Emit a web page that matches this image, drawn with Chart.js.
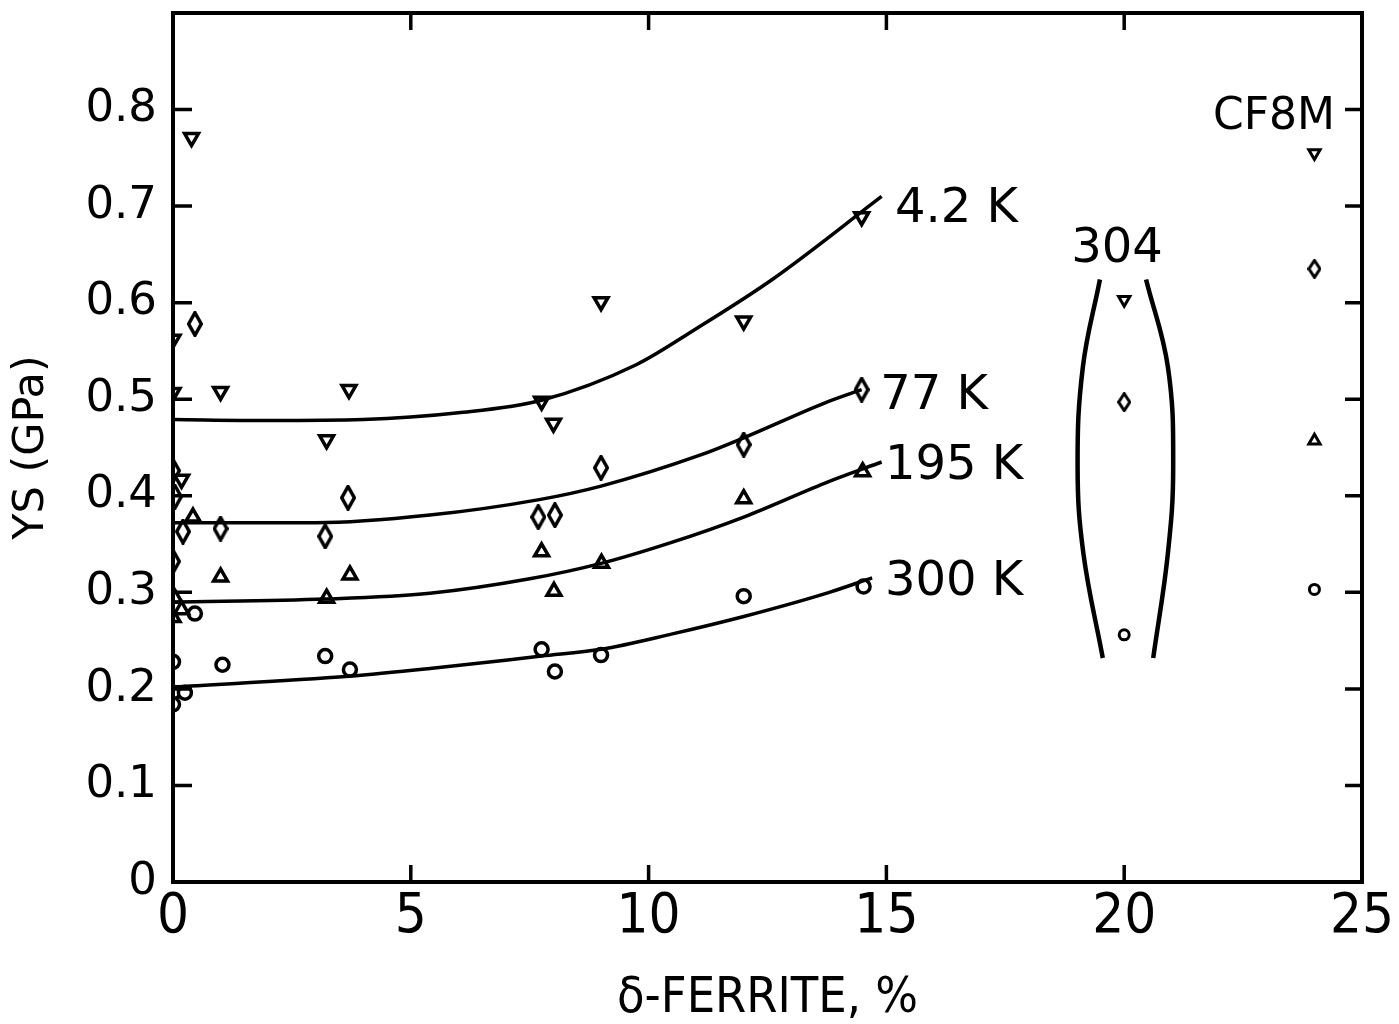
<!DOCTYPE html>
<html>
<head>
<meta charset="utf-8">
<script src="https://cdn.jsdelivr.net/npm/chart.js@4.4.0/dist/chart.umd.min.js"></script>
<style>
  html, body { margin: 0; padding: 0; background: #fff; }
</style>
</head>
<body>
<canvas id="ysChart" width="1399" height="1024"></canvas>
<script>
// delta-ferrite (%) and yield strength (GPa)
const ferrite42 = [0.39, 0, 0, 1.0, 3.7, 3.23, 0.18, 7.75, 8.0, 9.0, 12.0, 14.48];
const ys42      = [0.771, 0.562, 0.507, 0.508, 0.51, 0.458, 0.417, 0.498, 0.475, 0.601, 0.581, 0.689];

const ferrite77 = [0.46, 0, 0.04, 0.21, 1.0, 3.2, 3.68, 0, 7.68, 8.03, 9.0, 12.0, 14.48];
const ys77      = [0.578, 0.426, 0.399, 0.363, 0.366, 0.358, 0.398, 0.332, 0.378, 0.38, 0.429, 0.453, 0.51];

const ferrite195 = [0.42, 1.0, 3.72, 0.04, 3.23, 0.18, 0, 7.75, 8.01, 9.01, 12.0, 14.5];
const ys195      = [0.378, 0.316, 0.318, 0.294, 0.294, 0.282, 0.274, 0.342, 0.301, 0.33, 0.397, 0.425];

const ferrite300 = [0.46, 0, 1.04, 3.2, 3.72, 0, 0.25, 0, 7.75, 8.03, 9.0, 12.0, 14.52];
const ys300      = [0.278, 0.228, 0.225, 0.234, 0.22, 0.196, 0.196, 0.184, 0.241, 0.218, 0.235, 0.296, 0.306];

// type 304 (20 % ferrite) and CF8M (24 %)
const temps304 = ['4.2', '77', '300'];
const ys304    = [0.603, 0.497, 0.256];
const tempsCF8M = ['4.2', '77', '195', '300'];
const ysCF8M    = [0.755, 0.635, 0.457, 0.303];

// fitted trend lines
const fitX42  = [0, 2, 4, 6, 7.75, 9.75, 11, 12.6, 14.9];
const fitY42  = [0.479, 0.478, 0.479, 0.486, 0.499, 0.536, 0.573, 0.624, 0.71];
const fitX77  = [0, 3, 5.4, 7.7, 9, 11.08, 12, 13.8, 14.48];
const fitY77  = [0.372, 0.372, 0.38, 0.396, 0.41, 0.442, 0.46, 0.498, 0.51];
const fitX195 = [0, 3.2, 5.4, 7.5, 9, 10.5, 12, 13.8, 14.9];
const fitY195 = [0.29, 0.293, 0.299, 0.314, 0.33, 0.352, 0.378, 0.415, 0.435];
const fitX300 = [0, 3.7, 5.4, 7.75, 9, 10.5, 12, 13.8, 14.7];
const fitY300 = [0.202, 0.213, 0.221, 0.234, 0.241, 0.257, 0.275, 0.30, 0.315];

// the bracket drawn round the 304 points
const bracketLeftX  = [19.49, 19.13, 19.02, 19.14, 19.55];
const bracketRightX = [20.46, 20.92, 21.03, 20.92, 20.61];
const bracketY      = [0.624, 0.533, 0.43, 0.341, 0.232];

const xTickValues = [0, 5, 10, 15, 20, 25];
const yTickValues = [0, 0.1, 0.2, 0.3, 0.4, 0.5, 0.6, 0.7, 0.8];

const textLabels = [
    { text: '4.2 K', x: 15.18, y: 0.696, align: 'left' },
    { text: '77 K',  x: 14.87, y: 0.503, align: 'left' },
    { text: '195 K', x: 14.97, y: 0.430, align: 'left' },
    { text: '300 K', x: 14.97, y: 0.310, align: 'left' },
    { text: '304',   x: 19.85, y: 0.655, align: 'center' },
    { text: 'CF8M',  x: 24.43, y: 0.792, align: 'right', size: 44 }
];

function zip(xs, ys) {
    return xs.map((x, i) => ({ x: x, y: ys[i] }));
}

function makeDiamond(w, h, lw) {
    const c = document.createElement('canvas');
    c.width = w; c.height = h;
    const g = c.getContext('2d');
    g.lineWidth = lw;
    g.strokeStyle = '#000';
    g.fillStyle = '#fff';
    g.beginPath();
    g.moveTo(w / 2, lw / 2);
    g.lineTo(w - lw / 2, h / 2);
    g.lineTo(w / 2, h - lw / 2);
    g.lineTo(lw / 2, h / 2);
    g.closePath();
    g.fill();
    g.stroke();
    return c;
}
const bigDiamond = makeDiamond(16, 26, 3.5);
const smallDiamond = makeDiamond(14, 20, 3);

const pts42 = zip(ferrite42, ys42).concat([{ x: 20, y: ys304[0] }, { x: 24, y: ysCF8M[0] }]);
const pts77 = zip(ferrite77, ys77).concat([{ x: 20, y: ys304[1] }, { x: 24, y: ysCF8M[1] }]);
const pts195 = zip(ferrite195, ys195).concat([{ x: 24, y: ysCF8M[2] }]);
const pts300 = zip(ferrite300, ys300).concat([{ x: 20, y: ys304[2] }, { x: 24, y: ysCF8M[3] }]);

const far = ctx => ctx.raw && ctx.raw.x > 17;

function markerSet(label, data, style, radius, rotation) {
    return {
        label: label,
        data: data,
        showLine: false,
        pointStyle: style,
        pointRotation: rotation || 0,
        pointRadius: ctx => far(ctx) ? radius - 1.5 : radius,
        pointBorderWidth: ctx => far(ctx) ? 3 : 3.5,
        pointBorderColor: '#000',
        pointBackgroundColor: '#fff',
        pointHoverRadius: radius
    };
}

function lineSet(label, data, monotone, width) {
    return {
        label: label,
        data: data,
        showLine: true,
        pointRadius: 0,
        borderColor: '#000',
        borderWidth: width || 3.5,
        tension: 0.4,
        cubicInterpolationMode: monotone ? 'monotone' : 'default'
    };
}

const frameAndTicks = {
    id: 'frameAndTicks',
    afterDatasetsDraw(chart) {
        const { ctx, chartArea: a, scales: { x, y } } = chart;
        ctx.save();
        ctx.strokeStyle = '#000';
        ctx.lineWidth = 4;
        ctx.lineCap = 'butt';
        ctx.strokeRect(a.left, a.top, a.right - a.left, a.bottom - a.top);
        ctx.lineWidth = 3.5;
        ctx.beginPath();
        xTickValues.slice(1, -1).forEach(v => {
            const px = x.getPixelForValue(v);
            ctx.moveTo(px, a.bottom); ctx.lineTo(px, a.bottom - 17);
            ctx.moveTo(px, a.top); ctx.lineTo(px, a.top + 17);
        });
        yTickValues.slice(1).forEach(v => {
            const py = y.getPixelForValue(v);
            ctx.moveTo(a.left, py); ctx.lineTo(a.left + 19, py);
            ctx.moveTo(a.right, py); ctx.lineTo(a.right - 17, py);
        });
        ctx.stroke();

        ctx.fillStyle = '#000';
        ctx.textBaseline = 'middle';
        textLabels.forEach(l => {
            ctx.font = (l.size || 48) + 'px "DejaVu Sans", sans-serif';
            ctx.textAlign = l.align;
            ctx.fillText(l.text, x.getPixelForValue(l.x), y.getPixelForValue(l.y));
        });
        ctx.restore();
    }
};

new Chart(document.getElementById('ysChart'), {
    type: 'scatter',
    data: {
        datasets: [
            lineSet('4.2 K fit', zip(fitX42, fitY42), true),
            lineSet('77 K fit', zip(fitX77, fitY77), true),
            lineSet('195 K fit', zip(fitX195, fitY195), true),
            lineSet('300 K fit', zip(fitX300, fitY300), true),
            lineSet('304 left', zip(bracketLeftX, bracketY), false, 4.5),
            lineSet('304 right', zip(bracketRightX, bracketY), false, 4.5),
            markerSet('4.2 K', pts42, 'triangle', 8, 180),
            markerSet('77 K', pts77, ctx => far(ctx) ? smallDiamond : bigDiamond, 8),
            markerSet('195 K', pts195, 'triangle', 8),
            markerSet('300 K', pts300, 'circle', 6.5)
        ]
    },
    options: {
        responsive: false,
        animation: false,
        devicePixelRatio: 1,
        layout: { padding: { left: 0, top: 13, right: 37, bottom: 0 } },
        plugins: {
            legend: { display: false },
            tooltip: { enabled: false }
        },
        scales: {
            x: {
                type: 'linear',
                min: 0,
                max: 25,
                afterFit: s => { s.height = 142; s.paddingLeft = 0; s.paddingRight = 0; },
                afterBuildTicks: s => { s.ticks = xTickValues.map(v => ({ value: v })); },
                grid: { display: false, drawTicks: false },
                border: { display: false },
                ticks: {
                    padding: 2,
                    color: '#000',
                    font: { family: '"Liberation Sans Narrow", "DejaVu Sans Condensed", sans-serif', size: 56 },
                    maxRotation: 0
                },
                title: {
                    display: true,
                    text: 'δ-FERRITE, %',
                    color: '#000',
                    padding: { top: 0, bottom: 0 },
                    font: { family: '"Liberation Sans Narrow", "DejaVu Sans Condensed", sans-serif', size: 50, lineHeight: 1.0 }
                }
            },
            y: {
                type: 'linear',
                min: 0,
                max: 0.9,
                afterFit: s => { s.width = 173; s.paddingTop = 0; s.paddingBottom = 0; },
                afterBuildTicks: s => { s.ticks = yTickValues.map(v => ({ value: v })); },
                grid: { display: false, drawTicks: false },
                border: { display: false },
                ticks: {
                    padding: 16,
                    color: '#000',
                    font: { family: '"DejaVu Sans", sans-serif', size: 45 },
                    callback: v => v === 0 ? '0' : v.toFixed(1)
                },
                title: {
                    display: true,
                    text: 'YS (GPa)',
                    color: '#000',
                    padding: { top: 6, bottom: 0 },
                    font: { family: '"DejaVu Sans", sans-serif', size: 43 }
                }
            }
        }
    },
    plugins: [frameAndTicks]
});
</script>
</body>
</html>
